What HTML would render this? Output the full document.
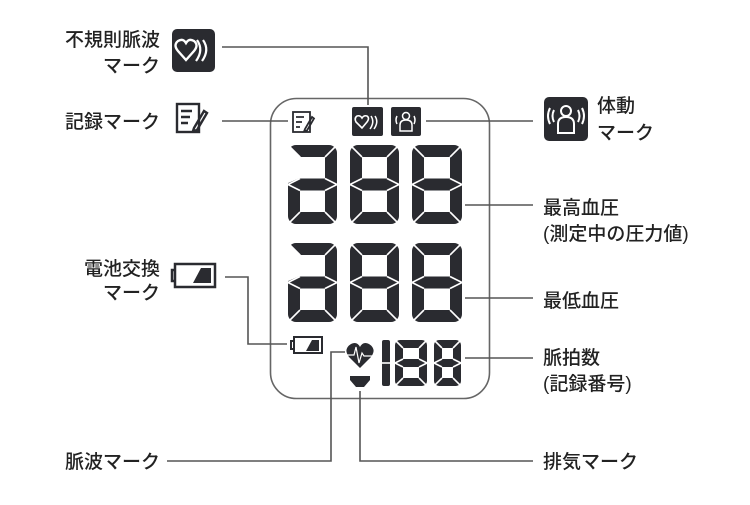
<!DOCTYPE html>
<html><head><meta charset="utf-8"><style>
body{margin:0;background:#fff;width:750px;height:500px;overflow:hidden}
svg text{font-family:"Liberation Sans","Noto Sans CJK JP",sans-serif;font-size:19px;fill:#222;font-weight:500}
</style></head><body>
<svg id="s" width="750" height="500" viewBox="0 0 750 500" xmlns="http://www.w3.org/2000/svg">
<rect x="270.5" y="98.5" width="219" height="300" rx="26" fill="none" stroke="#666" stroke-width="1.6"/>
<g stroke="#555" stroke-width="1.6" fill="none">
<polyline points="222,47 368,47 368,105"/>
<polyline points="222,121 288,121"/>
<polyline points="426,121 533,121"/>
<polyline points="465,205 533,205"/>
<polyline points="465,298 533,298"/>
<polyline points="465,358 533,358"/>
<polyline points="225,277 248,277 248,344 287,344"/>
<polyline points="167,461 331,461 331,352 345,352"/>
<polyline points="360,391 360,461 533,461"/>
</g>
<text x="160" y="46" text-anchor="end">不規則脈波</text>
<text x="160" y="72" text-anchor="end">マーク</text>
<text x="160" y="128" text-anchor="end">記録マーク</text>
<text x="160" y="275" text-anchor="end">電池交換</text>
<text x="160" y="299" text-anchor="end">マーク</text>
<text x="160" y="468" text-anchor="end">脈波マーク</text>
<text x="597" y="112">体動</text>
<text x="597" y="139">マーク</text>
<text x="543" y="214">最高血圧</text>
<text x="543" y="240">(測定中の圧力値)</text>
<text x="543" y="307">最低血圧</text>
<text x="543" y="364">脈拍数</text>
<text x="543" y="390">(記録番号)</text>
<text x="543" y="468">排気マーク</text>
<rect x="172" y="29" width="43" height="43" rx="5" fill="#2a2b30"/>
<path d="M186 60 L178 51 Q173 45 178 41 Q183 38 186 43 Q189 38 194 41 Q199 45 194 51 Z" fill="none" stroke="#fff" stroke-width="2.4"/>
<path d="M197 40 Q204 50 196 61 M203 40 Q210 50 202 61" fill="none" stroke="#fff" stroke-width="2.2"/>
<g fill="none" stroke="#2a2b30" stroke-width="2.4">
<rect x="177" y="104" width="22" height="28"/>
<path d="M181 111h11M181 117h9M181 123h7"/>
<path d="M194 128l10-17 3 2-10 17-4 1z"/>
</g>
<rect x="544" y="97" width="44" height="44" rx="5" fill="#2a2b30"/>
<g fill="none" stroke="#fff" stroke-width="2">
<circle cx="566" cy="111" r="5"/>
<path d="M558 133 V124 Q558 117 566 117 Q574 117 574 124 V133 Z"/>
<path d="M554 110 Q551 116 554 122 M550 108 Q546 116 550 124 M578 110 Q581 116 578 122 M582 108 Q586 116 582 124"/>
</g>
<g fill="none" stroke="#2a2b30" stroke-width="2.5">
<rect x="175" y="264" width="40" height="23"/>
<path d="M175 270h-3v11h3"/>
</g>
<path d="M193 283 L201 268 H211 V283 Z" fill="#2a2b30"/>
<g fill="none" stroke="#2a2b30" stroke-width="1.8">
<rect x="293" y="112" width="17" height="20"/>
<path d="M296 117h8M296 122h6M296 127h4"/>
<path d="M305 129l7-12 2 1.5-7 12-3 1z"/>
</g>
<rect x="352" y="107" width="31" height="29" rx="2" fill="#2a2b30"/>
<path d="M362 128 L356 122 Q354 118 357 116 Q360 115 362 118 Q364 115 367 116 Q370 118 367 122 Z" fill="none" stroke="#fff" stroke-width="1.6"/>
<path d="M371 116 Q375 122 370 129 M375 116 Q379 122 374 129" fill="none" stroke="#fff" stroke-width="1.5"/>
<rect x="391" y="107" width="30" height="29" rx="2" fill="#2a2b30"/>
<g fill="none" stroke="#fff" stroke-width="1.5"><circle cx="406" cy="116" r="3.5"/><path d="M400 131V125Q400 120 406 120Q412 120 412 125V131Z"/><path d="M397 116Q395 120 397 124M414 116Q416 120 414 124"/></g>
<g fill="none" stroke="#2a2b30" stroke-width="2"><rect x="294" y="337" width="28" height="16"/><path d="M294 341h-3v8h3"/></g>
<path d="M306 351 L312 340 H319 V351 Z" fill="#2a2b30"/>
<path d="M360 368 L349 357 Q343 349 351 344 Q357 341 360 347 Q363 341 369 344 Q377 349 371 357 Z" fill="#2a2b30"/>
<path d="M346 355h8l2-8 3 16 3-10 2 3h10" fill="none" stroke="#fff" stroke-width="1.2"/>
<path d="M350 376 H370 V380 L364 387 H356 L350 380 Z" fill="#2a2b30"/>
<g id="d"></g>
</svg>
<script>
var g=document.getElementById('d'),ns='http://www.w3.org/2000/svg';
function E(tag,a){var e=document.createElementNS(ns,tag);for(var k in a)e.setAttribute(k,a[k]);g.appendChild(e);return e;}
function D(x,y,w,h,t,noUL,r){var ym=y+h/2,W='#fff',sw=1.6;
E('rect',{x:x,y:y,width:w,height:h,rx:r||4,fill:'#2a2b30'});
E('rect',{x:x+t,y:y+t,width:w-2*t,height:h/2-t-t/2,fill:W});
E('rect',{x:x+t,y:ym+t/2,width:w-2*t,height:h/2-t-t/2,fill:W});
function L(a,b,c,d){E('line',{x1:a,y1:b,x2:c,y2:d,stroke:W,'stroke-width':sw});}
L(x,y,x+t,y+t);L(x+w,y,x+w-t,y+t);L(x,y+h,x+t,y+h-t);L(x+w,y+h,x+w-t,y+h-t);
L(x,ym,x+t,ym-t/2);L(x,ym,x+t,ym+t/2);L(x+w,ym,x+w-t,ym-t/2);L(x+w,ym,x+w-t,ym+t/2);
if(noUL){E('polygon',{points:[[x-1,y-1],[x+t+1,y+t],[x+t+1,ym-t/2-1],[x-1,ym-1]].join(' '),fill:W});}
}
[145,243].forEach(function(y){D(288,y,49,79,12,true,8);D(350,y,49,79,12,false,8);D(412,y,50,79,12,false,8);});
E('rect',{x:382,y:340,width:8,height:46,rx:2,fill:'#2a2b30'});
E('line',{x1:381,y1:363,x2:391,y2:363,stroke:'#fff','stroke-width':1.6});
D(395,340,32,46,8,false,5);D(434,340,27,46,8,false,5);
</script>
</body></html>
